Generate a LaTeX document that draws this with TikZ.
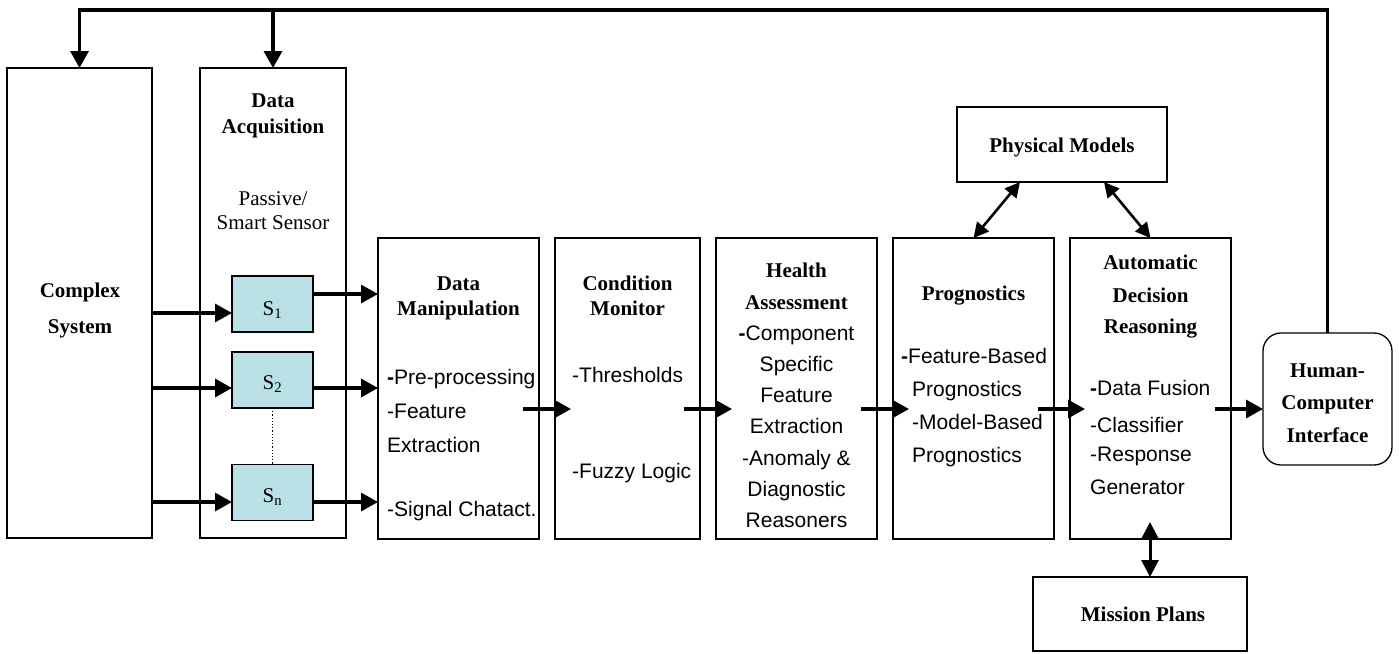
\documentclass[tikz,border=0pt]{standalone}
\usepackage{fontspec}
\setmainfont{Liberation Serif}
\setsansfont{Liberation Sans}
\usetikzlibrary{arrows.meta}
\definecolor{sensorfill}{RGB}{185,224,228}
\begin{document}
\begin{tikzpicture}[x=1pt,y=-1pt,
  box/.style={draw,line width=1.3pt,inner sep=0pt,outer sep=0pt},
  sensor/.style={box,fill=sensorfill,minimum width=81pt,minimum height=56pt,
    font=\fontsize{20}{24}\selectfont},
  hd/.style={font=\fontsize{21}{25}\selectfont\bfseries,anchor=base,inner sep=0pt},
  rm/.style={font=\fontsize{21}{25}\selectfont,anchor=base,inner sep=0pt},
  tx/.style={font=\sffamily\fontsize{21}{25}\selectfont,anchor=base,inner sep=0pt},
  txl/.style={tx,anchor=base west},
  flow/.style={line width=3.2pt,-{Triangle[length=17pt,width=18pt]}},
  link/.style={line width=2.6pt,{Triangle[length=15pt,width=15pt]}-{Triangle[length=15pt,width=15pt]}}]
\useasboundingbox (0,0) rectangle (1399,653);

% main blocks
\node[box,minimum width=145pt,minimum height=470pt] (cs) at (79.5,303) {};
\node[box,minimum width=146pt,minimum height=470pt] (da) at (273,303) {};
\node[box,minimum width=161pt,minimum height=301pt] (dm) at (458.5,388.5) {};
\node[box,minimum width=145pt,minimum height=301pt] (cm) at (627.5,388.5) {};
\node[box,minimum width=161pt,minimum height=301pt] (ha) at (796.5,388.5) {};
\node[box,minimum width=161pt,minimum height=301pt] (pr) at (973.5,388.5) {};
\node[box,minimum width=161pt,minimum height=301pt] (adr) at (1150.5,388.5) {};
\node[box,rounded corners=18pt,minimum width=129pt,minimum height=132pt] (hci) at (1327.5,399) {};
\node[box,minimum width=210pt,minimum height=75pt] (pm) at (1062,144.5) {};
\node[box,minimum width=214pt,minimum height=74pt] (mp) at (1140,614) {};

% sensors
\node[sensor] (s1) at (272.5,304) {};
\node[sensor] (s2) at (272.5,380) {};
\node[sensor] (sn) at (272.5,492.5) {};
\node[rm] (s1t) at (272.5,315) {S\textsubscript{1}};
\node[rm] (s2t) at (272.5,389) {S\textsubscript{2}};
\node[rm] (snt) at (272.5,502) {S\textsubscript{n}};
\draw[line width=1.2pt,dotted] (s2.south) -- (sn.north);

% texts
\node[hd] (cs1) at (80,297) {Complex};
\node[hd] (cs2) at (80,333) {System};

\node[hd] (da1) at (273,107) {Data};
\node[hd] (da2) at (273,133) {Acquisition};
\node[rm] (da3) at (273,205) {Passive/};
\node[rm] (da4) at (273,229) {Smart Sensor};

\node[hd] (dm1) at (458.5,290) {Data};
\node[hd] (dm2) at (458.5,315) {Manipulation};
\node[txl] (dm3) at (387,384) {\textbf{-}Pre-processing};
\node[txl] (dm4) at (387,418) {-Feature};
\node[txl] (dm5) at (387,452) {Extraction};
\node[txl] (dm6) at (387,516) {-Signal Chatact.};

\node[hd] (cm1) at (627.5,290) {Condition};
\node[hd] (cm2) at (627.5,315) {Monitor};
\node[txl] (cm3) at (572,382) {-Thresholds};
\node[txl] (cm4) at (572,478) {-Fuzzy Logic};

\node[hd] (ha1) at (796.5,277) {Health};
\node[hd] (ha2) at (796.5,309) {Assessment};
\node[tx] (ha3) at (796.5,340) {\textbf{-}Component};
\node[tx] (ha4) at (796.5,371) {Specific};
\node[tx] (ha5) at (796.5,402) {Feature};
\node[tx] (ha6) at (796.5,433) {Extraction};
\node[tx] (ha7) at (796.5,465) {-Anomaly \&};
\node[tx] (ha8) at (796.5,496) {Diagnostic};
\node[tx] (ha9) at (796.5,527) {Reasoners};

\node[hd] (pr1) at (973.5,300) {Prognostics};
\node[txl] (pr2) at (901,363) {\textbf{-}Feature-Based};
\node[txl] (pr3) at (912,396) {Prognostics};
\node[txl] (pr4) at (912,429) {-Model-Based};
\node[txl] (pr5) at (912,462) {Prognostics};

\node[hd] (ad1) at (1150.5,269) {Automatic};
\node[hd] (ad2) at (1150.5,302) {Decision};
\node[hd] (ad3) at (1150.5,333) {Reasoning};
\node[txl] (ad4) at (1090,395) {\textbf{-}Data Fusion};
\node[txl] (ad5) at (1090,432) {-Classifier};
\node[txl] (ad6) at (1090,461) {-Response};
\node[txl] (ad7) at (1090,494) {Generator};

\node[hd] (hc1) at (1327.5,377) {Human-};
\node[hd] (hc2) at (1327.5,409) {Computer};
\node[hd] (hc3) at (1327.5,442) {Interface};

\node[hd] (pmt) at (1062,152) {Physical Models};
\node[hd] (mpt) at (1143,621) {Mission Plans};

% system to sensors
\coordinate (i1) at ([yshift=-9pt]s1.west);
\coordinate (i2) at ([yshift=-8pt]s2.west);
\coordinate (i3) at ([yshift=-9.5pt]sn.west);
\draw[flow] (i1 -| cs.east) -- (i1);
\draw[flow] (i2 -| cs.east) -- (i2);
\draw[flow] (i3 -| cs.east) -- (i3);

% sensors to data manipulation
\coordinate (o1) at ([yshift=10pt]s1.east);
\coordinate (o2) at ([yshift=-8pt]s2.east);
\coordinate (o3) at ([yshift=-9.5pt]sn.east);
\draw[flow] (o1) -- (o1 -| dm.west);
\draw[flow] (o2) -- (o2 -| dm.west);
\draw[flow] (o3) -- (o3 -| dm.west);

% processing chain
\draw[flow] ([xshift=-16pt,yshift=-20.5pt]dm.east) -- ([xshift=16pt,yshift=-20.5pt]cm.west);
\draw[flow] ([xshift=-16pt,yshift=-20.5pt]cm.east) -- ([xshift=16pt,yshift=-20.5pt]ha.west);
\draw[flow] ([xshift=-16pt,yshift=-20.5pt]ha.east) -- ([xshift=16pt,yshift=-20.5pt]pr.west);
\draw[flow] ([xshift=-16pt,yshift=-20.5pt]pr.east) -- ([xshift=15pt,yshift=-20.5pt]adr.west);
\coordinate (h1) at ([xshift=-16pt,yshift=-20.5pt]adr.east);
\draw[flow] (h1) -- (h1 -| hci.west);

% model and plan links
\draw[link] ([xshift=-42pt]pm.south) -- (pr.north);
\draw[link] ([xshift=42pt]pm.south) -- (adr.north);
\coordinate (mpa) at (adr.south -| 1150,0);
\draw[link,line width=3pt,{Triangle[length=17pt,width=17pt]}-{Triangle[length=17pt,width=17pt]}] ([yshift=17pt]mpa) -- (mpa |- mp.north);

% feedback loop
\coordinate (loopR) at (1327.5,10);
\draw[flow] (hci.north) |- (cs.north |- loopR) -- (cs.north);
\draw[flow] (da.north |- loopR) -- (da.north);
\end{tikzpicture}
\end{document}
